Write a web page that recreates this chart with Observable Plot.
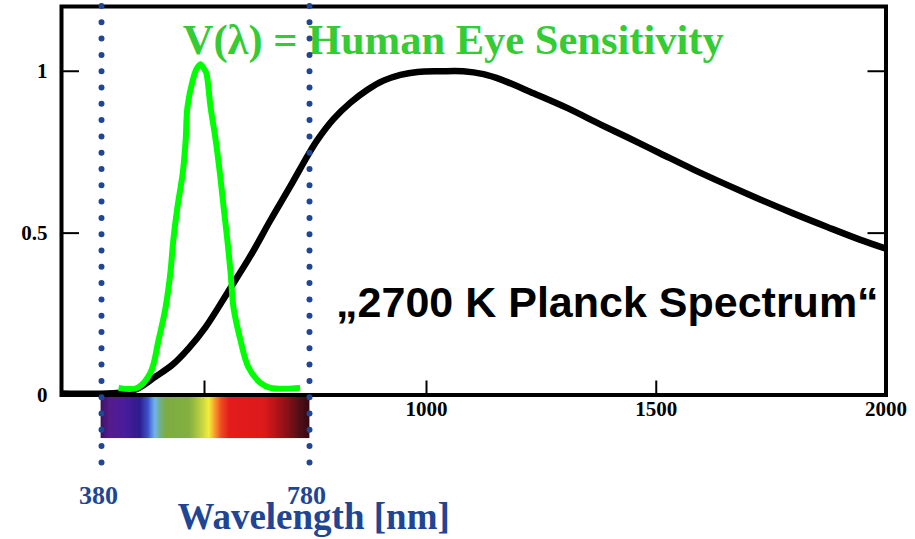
<!DOCTYPE html>
<html>
<head>
<meta charset="utf-8">
<script src="https://cdn.jsdelivr.net/npm/d3@7"></script>
<script src="https://cdn.jsdelivr.net/npm/@observablehq/plot@0.6"></script>
<style>
  html, body { margin: 0; padding: 0; background: #ffffff; }
  #chart svg { display: block; }
</style>
</head>
<body>
<div id="chart"></div>
<script>
// Relative spectral radiance of a 2700 K black body (peak = 1)
const planckNm  = [300, 407, 438, 472, 501, 528, 557, 606, 654, 696, 739, 778, 795, 825, 857, 889, 919, 951, 983, 1030, 1080, 1124, 1161, 1233, 1307, 1378, 1437, 1509, 1580, 1654, 1726, 1798, 1872, 1943, 2000];
const planckRel = [0.005, 0.006, 0.017, 0.057, 0.094, 0.144, 0.209, 0.320, 0.431, 0.539, 0.645, 0.744, 0.788, 0.852, 0.903, 0.943, 0.971, 0.989, 0.998, 1.0, 1.0, 0.991, 0.975, 0.932, 0.886, 0.836, 0.796, 0.746, 0.697, 0.649, 0.604, 0.561, 0.519, 0.480, 0.452];

// Human eye sensitivity curve V(λ)
const eyeNm  = [409, 441, 463, 477, 489, 497, 502, 509, 518, 523, 526, 535, 541, 548, 555, 559, 568, 579, 588, 596, 604, 611, 617, 632, 649, 675, 696, 760];
const eyeRel = [0.022, 0.022, 0.068, 0.170, 0.272, 0.377, 0.478, 0.580, 0.685, 0.787, 0.889, 0.972, 1.005, 1.022, 1.005, 0.994, 0.889, 0.787, 0.685, 0.580, 0.478, 0.377, 0.272, 0.170, 0.086, 0.037, 0.022, 0.022];

// Visible band limits and the colours of the rainbow strip
const visibleLimits = [380, 780];
const spectrumNm     = [380, 382, 395, 421, 446, 460, 472, 480, 490, 531, 548, 566, 578, 593, 610, 685, 713, 739, 764, 780];
const spectrumColors = ["#3a1262", "#3e1468", "#561c8c", "#4a1c9c", "#2e1c8e", "#3c50c8", "#72b4f2", "#70b090", "#7cac44", "#84b040", "#b8cc40", "#f4ee3a", "#f8a030", "#ee4a22", "#e41c1c", "#dc1a1c", "#b01418", "#801016", "#4c0e16", "#380a12"];

// Axis ticks
const yTickLabels = [0, 0.5, 1];
const yTickMarks  = [0.5, 1];
const xTickLabels = [1000, 1500, 2000];
const xTickMarks  = [555, 1000, 1500];

const planck = planckNm.map((nm, i) => ({nm, rel: planckRel[i]}));
const eye = eyeNm.map((nm, i) => ({nm, rel: eyeRel[i]}));

const bandStep = 2;
const bandBins = d3.range(visibleLimits[0], visibleLimits[1], bandStep);

const serif = "Liberation Serif, Times New Roman, serif";
const sans = "Liberation Sans, Arial, sans-serif";
const blue = "#1f4595";

const chart = Plot.plot({
  width: 915,
  height: 539,
  marginTop: 6,
  marginRight: 29.5,
  marginBottom: 144.5,
  marginLeft: 61,
  style: {background: "#ffffff", color: "#000000", fontFamily: serif, overflow: "visible"},
  // piecewise wavelength axis: the visible band is stretched relative to the infrared part
  x: {type: "linear", domain: [300, 380, 555, 780, 1000, 2000], range: [61, 101, 204, 309, 426, 885.5], axis: null},
  y: {domain: [0, 1.2], axis: null},
  color: {type: "linear", domain: spectrumNm, range: spectrumColors},
  marks: [
    // rainbow strip just below the wavelength axis
    Plot.rect(bandBins, {
      x1: d => d, x2: d => d + bandStep,
      y1: -0.0077, y2: -0.1345,
      fill: d => d + bandStep / 2,
      insetLeft: -0.4, insetRight: -0.4
    }),
    Plot.frame({stroke: "#000000", strokeWidth: 4}),
    // inward tick marks
    Plot.ruleX(xTickMarks, {x: d => d, y1: 0, y2: 0, insetTop: -14, stroke: "#000000", strokeWidth: 2}),
    Plot.ruleY(yTickMarks, {y: d => d, x1: 300, x2: 300, insetRight: -18, stroke: "#000000", strokeWidth: 2}),
    Plot.ruleY(yTickMarks, {y: d => d, x1: 2000, x2: 2000, insetLeft: -18, stroke: "#000000", strokeWidth: 2}),
    Plot.axisY(yTickLabels, {label: null, tickSize: 0, tickPadding: 14, fontSize: 21, fontWeight: "bold", fontFamily: serif, tickFormat: d => String(d)}),
    Plot.axisX(xTickLabels, {label: null, tickSize: 0, tickPadding: 6, fontSize: 21, fontWeight: "bold", fontFamily: serif, tickFormat: d => String(d)}),
    // black-body curve
    Plot.line(planck, {x: "nm", y: "rel", stroke: "#000000", strokeWidth: 6.5, curve: "catmull-rom", strokeLinecap: "butt"}),
    // eye sensitivity curve
    Plot.line(eye, {x: "nm", y: "rel", stroke: "#00ff00", strokeWidth: 6, curve: "catmull-rom", strokeLinecap: "butt"}),
    Plot.text(["V(λ) = Human Eye Sensitivity"], {
      x: 518, y: 1.0526, text: d => d, textAnchor: "start", lineAnchor: "bottom",
      fill: "#33cc33", fontSize: 42.5, fontWeight: "bold", fontFamily: serif
    }),
    Plot.text(["„2700 K Planck Spectrum“"], {
      x: 830, y: 0.24, text: d => d, textAnchor: "start", lineAnchor: "bottom",
      fill: "#000000", fontSize: 43, fontWeight: "bold", fontFamily: sans
    }),
    Plot.text(visibleLimits, {
      x: d => d, y: -0.3354, text: d => String(d), textAnchor: "middle", lineAnchor: "bottom", dx: -3,
      fill: blue, fontSize: 26, fontWeight: "bold", fontFamily: serif
    }),
    Plot.text(["Wavelength [nm]"], {
      x: 509, y: -0.413, text: d => d, textAnchor: "start", lineAnchor: "bottom",
      fill: blue, fontSize: 37, fontWeight: "bold", fontFamily: serif
    }),
    // dotted markers at the limits of the visible range
    Plot.ruleX(visibleLimits, {
      x: d => d, insetBottom: -84, stroke: blue, strokeWidth: 6,
      strokeDasharray: "0 16.3", strokeLinecap: "round"
    })
  ]
});

document.getElementById("chart").appendChild(chart);
</script>
</body>
</html>
